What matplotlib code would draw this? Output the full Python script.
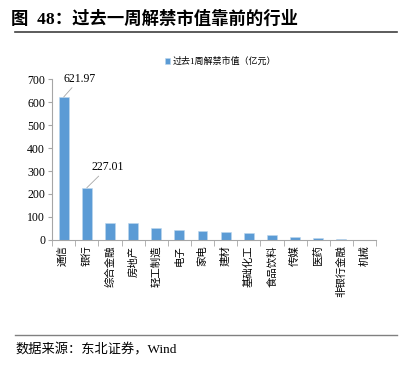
"""
Bar chart of last week's unlock market value by industry
"""

import matplotlib
matplotlib.use("Agg")
import matplotlib.pyplot as plt
import numpy as np

industries = ["通信", "银行", "综合金融", "房地产", "轻工制造", "电子", "家电",
              "建材", "基础化工", "食品饮料", "传媒", "医药", "非银行金融", "机械"]
unlock_value = [621.97, 227.01, 75, 73, 53, 42, 38, 35, 30, 20, 14, 10, 2, 1]
y_ticks = [0, 100, 200, 300, 400, 500, 600, 700]

FONTS = ["Liberation Serif", "Noto Sans CJK SC", "DejaVu Sans"]
BAR_COLOR = "#5B9BD5"
AXIS_COLOR = "#A6A6A6"

plt.rcParams["font.family"] = FONTS

fig = plt.figure(figsize=(4.07, 3.68), dpi=100)

# title and rule
fig.text(0.027, 0.948, "图  48：过去一周解禁市值靠前的行业", fontsize=12.5,
         fontweight="bold", va="center", ha="left")
fig.add_artist(plt.Line2D([0.037, 0.975], [0.913, 0.913], color="#404040", lw=1.2))

# footer
fig.add_artist(plt.Line2D([0.037, 0.975], [0.09, 0.09], color="#808080", lw=1.0))
fig.text(0.037, 0.048, "数据来源：东北证券，Wind", fontsize=9.5, va="center", ha="left")

ax = fig.add_axes([0.128, 0.348, 0.796, 0.437])
x = np.arange(len(industries))
ax.bar(x, unlock_value, width=0.43, color=BAR_COLOR, edgecolor="#BDD7EE", lw=0.4,
       label="过去1周解禁市值（亿元）", zorder=2)

ax.set_xlim(-0.5, len(industries) - 0.5)
ax.set_ylim(0, 700)
ax.set_yticks(y_ticks)
ax.tick_params(axis="y", labelsize=8.5, length=3, color=AXIS_COLOR, pad=2)

ax.set_xticks(x)
ax.set_xticklabels(industries, rotation=90, fontsize=7.5, va="top", ha="center")
ax.tick_params(axis="x", which="major", length=0, pad=4)
ax.set_xticks(np.arange(-0.5, len(industries)), minor=True)
ax.tick_params(axis="x", which="minor", length=4, color=AXIS_COLOR)

for side in ["top", "right"]:
    ax.spines[side].set_visible(False)
ax.spines["left"].set_color(AXIS_COLOR)
ax.spines["bottom"].set_color(AXIS_COLOR)

# data labels for top two bars
ax.annotate(f"{unlock_value[0]:.2f}", xy=(0, unlock_value[0]), xytext=(0.7, 675),
            fontsize=8.5, ha="center", va="bottom",
            arrowprops=dict(arrowstyle="-", color=AXIS_COLOR, lw=0.6, shrinkA=0, shrinkB=0))
ax.annotate(f"{unlock_value[1]:.2f}", xy=(1, unlock_value[1]), xytext=(1.9, 290),
            fontsize=8.5, ha="center", va="bottom",
            arrowprops=dict(arrowstyle="-", color=AXIS_COLOR, lw=0.6, shrinkA=0, shrinkB=0))

ax.legend(loc="lower center", bbox_to_anchor=(0.52, 1.06), frameon=False, fontsize=6.5,
          handlelength=0.6, handleheight=0.6, handletextpad=0.3, borderaxespad=0)

fig.savefig("out.png", dpi=100, facecolor="white")
